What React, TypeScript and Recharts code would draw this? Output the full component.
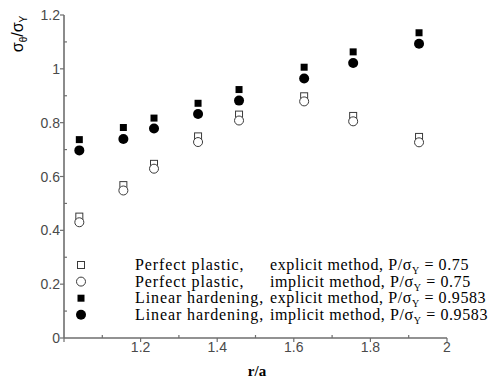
import { Legend, Scatter, ScatterChart, XAxis, YAxis } from "recharts";

const R_OVER_A = [1.04, 1.155, 1.235, 1.35, 1.457, 1.627, 1.755, 1.927];
const PERFECT_EXPLICIT = [0.451, 0.568, 0.647, 0.749, 0.83, 0.898, 0.825, 0.747];
const PERFECT_IMPLICIT = [0.43, 0.548, 0.629, 0.728, 0.808, 0.879, 0.805, 0.727];
const HARDENING_EXPLICIT = [0.737, 0.782, 0.817, 0.872, 0.923, 1.006, 1.063, 1.134];
const HARDENING_IMPLICIT = [0.697, 0.739, 0.778, 0.832, 0.882, 0.964, 1.022, 1.093];

const X_TICKS = [1, 1.1, 1.2, 1.3, 1.4, 1.5, 1.6, 1.7, 1.8, 1.9, 2];
const Y_TICKS = [0, 0.1, 0.2, 0.3, 0.4, 0.5, 0.6, 0.7, 0.8, 0.9, 1, 1.1, 1.2];

const LEGEND_LEFT = ["Perfect plastic,", "Perfect plastic,", "Linear hardening,", "Linear hardening,"];
const LEGEND_METHOD = ["explicit method, P/σ", "implicit method, P/σ", "explicit method, P/σ", "implicit method, P/σ"];
const LEGEND_LOAD = ["0.75", "0.75", "0.9583", "0.9583"];

const AXIS = "#6e6e6e";
const TICK_INK = "#4a4a4a";
const OPEN_INK = "#3a3a3a";

const toPoints = (ys: number[]) => R_OVER_A.map((x, i) => ({ x, y: ys[i] }));

type Pt = { cx?: number; cy?: number };

const OpenSquare = ({ cx = 0, cy = 0 }: Pt) => (
  <rect x={cx - 3.5} y={cy - 3.5} width={7} height={7} fill="#fff" stroke={OPEN_INK} strokeWidth={1} />
);
const OpenCircle = ({ cx = 0, cy = 0 }: Pt) => <circle cx={cx} cy={cy} r={4.5} fill="#fff" stroke={OPEN_INK} strokeWidth={1} />;
const FilledSquare = ({ cx = 0, cy = 0 }: Pt) => <rect x={cx - 3.5} y={cy - 3.5} width={7} height={7} fill="#000" />;
const FilledCircle = ({ cx = 0, cy = 0 }: Pt) => <circle cx={cx} cy={cy} r={5} fill="#000" />;

const MARKERS = [OpenSquare, OpenCircle, FilledSquare, FilledCircle];

const isMajor = (v: number) => Math.round(v * 10) % 2 === 0;

function XTick({ x, y, payload }: any) {
  const v = payload.value as number;
  const major = isMajor(v);
  return (
    <g>
      <line x1={x} x2={x} y1={y} y2={major ? y + 4 : y - 3} stroke={AXIS} strokeWidth={1.2} />
      {major && v !== 1 && (
        <text x={x} y={y + 14} textAnchor="middle" fontSize={14} fill={TICK_INK} fontFamily="Liberation Sans">
          {v}
        </text>
      )}
    </g>
  );
}

function YTick({ x, y, payload }: any) {
  const v = payload.value as number;
  const major = isMajor(v);
  return (
    <g>
      <line x1={x} x2={major ? x - 4 : x + 3} y1={y} y2={y} stroke={AXIS} strokeWidth={1.2} />
      {major && (
        <text x={x - 4} y={y + 5} textAnchor="end" fontSize={14} fill={TICK_INK} fontFamily="Liberation Sans">
          {v}
        </text>
      )}
    </g>
  );
}

function LegendBox({ payload }: any) {
  const rows = (payload ?? []) as any[];
  return (
    <svg width={494} height={80} style={{ display: "block" }}>
      {rows.map((entry, i) => {
        const Marker = MARKERS[i];
        const cy = 10 + i * 16.6;
        return (
          <g key={entry.value}>
            <Marker cx={81} cy={cy} />
            <text y={cy + 5} fontFamily="Liberation Serif" fontSize={16} letterSpacing={0.6} fill="#000">
              <tspan x={135} letterSpacing={0.9}>{LEGEND_LEFT[i]}</tspan>
              <tspan x={270}>{LEGEND_METHOD[i]}</tspan>
              <tspan fontSize={10} dy={4}>Y</tspan>
              <tspan dy={-4}> = {LEGEND_LOAD[i]}</tspan>
            </text>
          </g>
        );
      })}
    </svg>
  );
}

const yTitle = () => (
  <text transform="rotate(-90 23 34)" x={23} y={34} textAnchor="middle" fontFamily="Liberation Sans" fontSize={16} fill="#000">
    σ<tspan fontSize={10} dy={4}>θ</tspan>
    <tspan dy={-4}>/σ</tspan>
    <tspan fontSize={10} dy={4}>Y</tspan>
  </text>
);

const xTitle = () => (
  <text x={257} y={376} textAnchor="middle" fontFamily="Liberation Serif" fontWeight="bold" fontSize={15} fill="#000">
    r/a
  </text>
);

export default function App() {
  return (
    <div style={{ position: "absolute", left: 0, top: 0, background: "#fff" }}>
      <ScatterChart width={494} height={379} margin={{ top: 15, right: 47, left: 0, bottom: 0 }}>
        <XAxis
          type="number"
          dataKey="x"
          domain={[1, 2]}
          ticks={X_TICKS}
          interval={0}
          height={41}
          tickSize={0}
          tickMargin={0}
          tickLine={false}
          tick={<XTick />}
          axisLine={{ stroke: AXIS, strokeWidth: 1.6 }}
          label={{ content: xTitle }}
        />
        <YAxis
          type="number"
          dataKey="y"
          domain={[0, 1.2]}
          ticks={Y_TICKS}
          interval={0}
          width={64}
          tickSize={0}
          tickMargin={0}
          tickLine={false}
          tick={<YTick />}
          axisLine={{ stroke: AXIS, strokeWidth: 1.6 }}
          label={{ content: yTitle }}
        />
        <Legend
          content={<LegendBox />}
          wrapperStyle={{ position: "absolute", left: 0, top: 255, width: 494, height: 0, overflow: "visible" }}
        />
        <Scatter name="pp-explicit" data={toPoints(PERFECT_EXPLICIT)} shape={<OpenSquare />} isAnimationActive={false} />
        <Scatter name="pp-implicit" data={toPoints(PERFECT_IMPLICIT)} shape={<OpenCircle />} isAnimationActive={false} />
        <Scatter name="lh-explicit" data={toPoints(HARDENING_EXPLICIT)} shape={<FilledSquare />} isAnimationActive={false} />
        <Scatter name="lh-implicit" data={toPoints(HARDENING_IMPLICIT)} shape={<FilledCircle />} isAnimationActive={false} />
      </ScatterChart>
    </div>
  );
}
